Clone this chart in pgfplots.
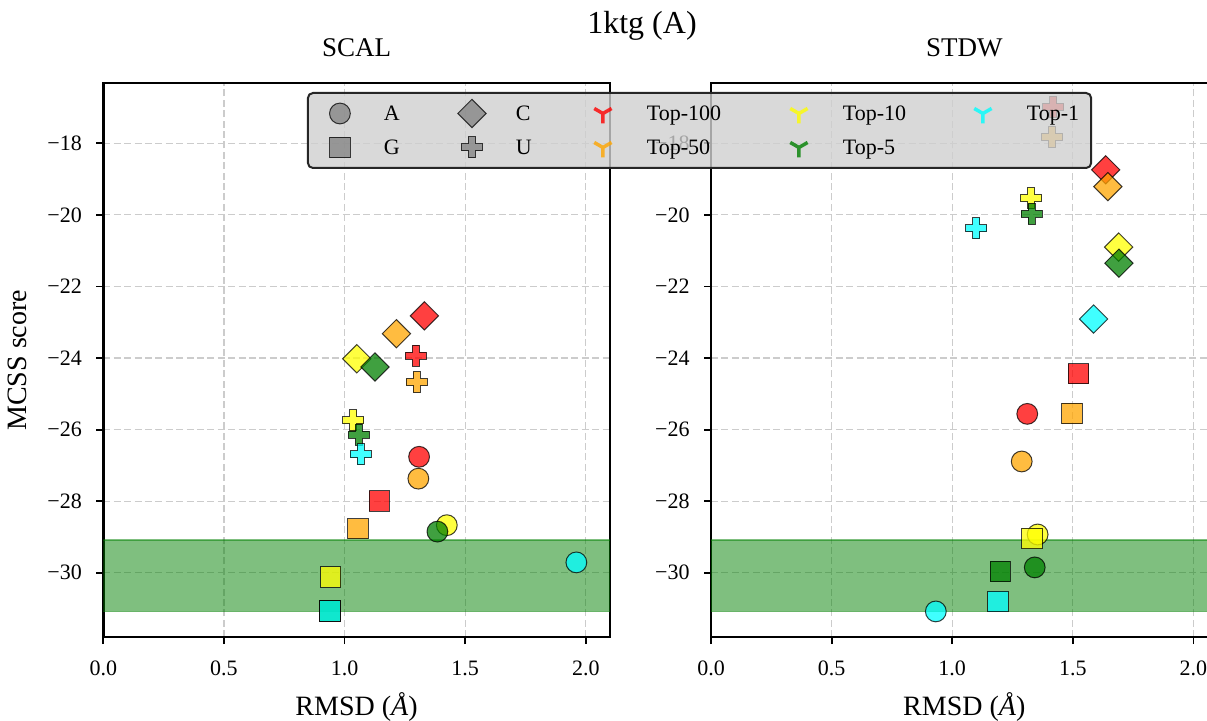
\documentclass[border=0pt]{standalone}
\usepackage{fontspec}
\setmainfont{Liberation Serif}
\usepackage{pgfplots}
\pgfplotsset{compat=1.18}

\definecolor{cR}{RGB}{255,0,0}
\definecolor{cO}{RGB}{255,165,0}
\definecolor{cY}{RGB}{255,255,0}
\definecolor{cG}{RGB}{0,128,0}
\definecolor{cC}{RGB}{0,255,255}
\definecolor{cGray}{RGB}{128,128,128}

\pgfdeclareplotmark{Pfill}{%
  \pgfpathmoveto{\pgfqpoint{-0.333\pgfplotmarksize}{\pgfplotmarksize}}%
  \pgfpathlineto{\pgfqpoint{0.333\pgfplotmarksize}{\pgfplotmarksize}}%
  \pgfpathlineto{\pgfqpoint{0.333\pgfplotmarksize}{0.333\pgfplotmarksize}}%
  \pgfpathlineto{\pgfqpoint{\pgfplotmarksize}{0.333\pgfplotmarksize}}%
  \pgfpathlineto{\pgfqpoint{\pgfplotmarksize}{-0.333\pgfplotmarksize}}%
  \pgfpathlineto{\pgfqpoint{0.333\pgfplotmarksize}{-0.333\pgfplotmarksize}}%
  \pgfpathlineto{\pgfqpoint{0.333\pgfplotmarksize}{-\pgfplotmarksize}}%
  \pgfpathlineto{\pgfqpoint{-0.333\pgfplotmarksize}{-\pgfplotmarksize}}%
  \pgfpathlineto{\pgfqpoint{-0.333\pgfplotmarksize}{-0.333\pgfplotmarksize}}%
  \pgfpathlineto{\pgfqpoint{-\pgfplotmarksize}{-0.333\pgfplotmarksize}}%
  \pgfpathlineto{\pgfqpoint{-\pgfplotmarksize}{0.333\pgfplotmarksize}}%
  \pgfpathlineto{\pgfqpoint{-0.333\pgfplotmarksize}{0.333\pgfplotmarksize}}%
  \pgfpathclose
  \pgfusepathqfillstroke}

\pgfdeclareplotmark{tridown}{%
  \pgfpathmoveto{\pgfqpoint{0pt}{0pt}}\pgfpathlineto{\pgfqpoint{0pt}{-\pgfplotmarksize}}%
  \pgfpathmoveto{\pgfqpoint{0pt}{0pt}}\pgfpathlineto{\pgfqpoint{0.866\pgfplotmarksize}{0.5\pgfplotmarksize}}%
  \pgfpathmoveto{\pgfqpoint{0pt}{0pt}}\pgfpathlineto{\pgfqpoint{-0.866\pgfplotmarksize}{0.5\pgfplotmarksize}}%
  \pgfusepathqstroke}

\pgfplotsset{
  myaxis/.style={
    scale only axis, width=253.3pt, height=277pt,
    xmin=0, xmax=2.1, ymin=-31.8, ymax=-16.32,
    xtick={0,0.5,1,1.5,2}, xticklabels={0.0,0.5,1.0,1.5,2.0},
    ytick={-30,-28,-26,-24,-22,-20,-18},
    yticklabels={−30,−28,−26,−24,−22,−20,−18},
    tick pos=left, tick align=outside, major tick length=3.5pt,
    major tick style={black, line width=0.9pt},
    axis line style={black, line width=1.25pt},
    grid=major,
    major grid style={black!20, line width=0.6pt, dash pattern=on 3.5pt off 1.7pt},
    tick label style={font=\fontsize{11}{13}\selectfont},
    xticklabel style={anchor=base, inner sep=0pt, yshift=-15.5pt},
    yticklabel style={anchor=east, inner sep=0pt, xshift=-7pt},
    title style={font=\fontsize{13.5}{16}\selectfont, at={(axis description cs:0.5,1.0271)}, anchor=base},
    every axis x label/.style={at={(axis description cs:0.5,-0.142)}, anchor=base, font=\fontsize{14}{16}\selectfont},
    every axis y label/.style={at={(axis description cs:-0.1508,0.5)}, rotate=90, anchor=base, font=\fontsize{14}{16}\selectfont},
    xlabel={RMSD (\textit{Å})},
  },
  pt/.style={only marks, forget plot, draw=black, line width=0.5pt, opacity=0.75},
  mA/.style={pt, mark=*, mark size=5.2pt},
  mG/.style={pt, mark=square*, mark size=5.1pt},
  mC/.style={pt, mark=square*, mark size=5pt, mark options={rotate=45}},
  mU/.style={pt, mark=Pfill, mark size=5.25pt},
  band/.style={forget plot, fill=cG, fill opacity=0.5, draw=cG, draw opacity=0.5, line width=0.75pt},
  limg/.style={legend image code/.code={\path[draw=none, fill=none] (-10pt,-8.5pt) rectangle (22pt,8.5pt); \draw[sharp corners, ##1] plot coordinates {(0pt,0pt)};}},
}

\begin{document}
\begin{tikzpicture}

\begin{axis}[myaxis, at={(51.65pt,41.9pt)}, anchor=south west,
  title={SCAL}, ylabel={MCSS score}]
\addplot[band] coordinates {(-1,-31.08) (3,-31.08) (3,-29.09) (-1,-29.09) (-1,-31.08)};
% A
\addplot[mA, fill=cR] coordinates {(1.309,-26.76)};
\addplot[mA, fill=cO] coordinates {(1.306,-27.37)};
\addplot[mA, fill=cY] coordinates {(1.424,-28.67)};
\addplot[mA, fill=cG] coordinates {(1.385,-28.85)};
\addplot[mA, fill=cC] coordinates {(1.961,-29.71)};
% G
\addplot[mG, fill=cR] coordinates {(1.144,-28.00)};
\addplot[mG, fill=cO] coordinates {(1.056,-28.77)};
\addplot[mG, fill=cY] coordinates {(0.943,-30.12)};
\addplot[mG, fill=cG] coordinates {(0.940,-31.07)};
\addplot[mG, fill=cC] coordinates {(0.940,-31.07)};
% C
\addplot[mC, fill=cR] coordinates {(1.331,-22.82)};
\addplot[mC, fill=cO] coordinates {(1.215,-23.32)};
\addplot[mC, fill=cY] coordinates {(1.051,-24.02)};
\addplot[mC, fill=cG] coordinates {(1.126,-24.25)};
% U
\addplot[mU, fill=cR] coordinates {(1.296,-23.93)};
\addplot[mU, fill=cO] coordinates {(1.299,-24.67)};
\addplot[mU, fill=cY] coordinates {(1.037,-25.74)};
\addplot[mU, fill=cG] coordinates {(1.059,-26.14)};
\addplot[mU, fill=cC] coordinates {(1.067,-26.69)};
\end{axis}

\begin{axis}[myaxis, at={(355.5pt,41.9pt)}, anchor=south west,
  title={STDW},
  legend columns=5, legend cell align=left,
  legend style={at={(axis description cs:-0.7976,0.9841)}, anchor=north west,
    draw=black!85, line width=1pt, rounded corners=2.5pt,
    fill=black!19, fill opacity=0.8, draw opacity=1, text opacity=1,
    inner xsep=6pt, inner ysep=1.75pt, column sep=0pt, row sep=0pt,
    font=\fontsize{11}{13}\selectfont,
    nodes={inner sep=0pt, text height=7.5pt, text depth=0pt}}]
\addplot[band] coordinates {(-1,-31.08) (3,-31.08) (3,-29.09) (-1,-29.09) (-1,-31.08)};
% A
\addplot[mA, fill=cR] coordinates {(1.311,-25.56)};
\addplot[mA, fill=cO] coordinates {(1.288,-26.89)};
\addplot[mA, fill=cY] coordinates {(1.354,-28.93)};
\addplot[mA, fill=cG] coordinates {(1.342,-29.85)};
\addplot[mA, fill=cC] coordinates {(0.932,-31.08)};
% G
\addplot[mG, fill=cR] coordinates {(1.523,-24.44)};
\addplot[mG, fill=cO] coordinates {(1.497,-25.55)};
\addplot[mG, fill=cY] coordinates {(1.330,-29.04)};
\addplot[mG, fill=cG] coordinates {(1.199,-29.97)};
\addplot[mG, fill=cC] coordinates {(1.190,-30.80)};
% C
\addplot[mC, fill=cR] coordinates {(1.636,-18.74)};
\addplot[mC, fill=cO] coordinates {(1.645,-19.21)};
\addplot[mC, fill=cY] coordinates {(1.690,-20.90)};
\addplot[mC, fill=cG] coordinates {(1.691,-21.35)};
\addplot[mC, fill=cC] coordinates {(1.586,-22.91)};
% U
\addplot[mU, fill=cR] coordinates {(1.419,-16.98)};
\addplot[mU, fill=cO] coordinates {(1.414,-17.82)};
\addplot[mU, fill=cY] coordinates {(1.327,-19.53)};
\addplot[mU, fill=cG] coordinates {(1.329,-19.97)};
\addplot[mU, fill=cC] coordinates {(1.100,-20.38)};

% legend (row-wise)
\addlegendimage{limg, mark=*, mark size=5.2pt, fill=cGray, draw=black, opacity=0.75, line width=0.5pt}
\addlegendentry{\makebox[34pt][l]{A}}
\addlegendimage{limg, mark=square*, mark size=5pt, mark options={rotate=45}, fill=cGray, draw=black, opacity=0.75, line width=0.5pt}
\addlegendentry{\makebox[33.5pt][l]{C}}
\addlegendimage{limg, mark=tridown, mark size=5pt, draw=cR, opacity=0.8, line width=1.75pt}
\addlegendentry{\makebox[66pt][l]{Top-100}}
\addlegendimage{limg, mark=tridown, mark size=5pt, draw=cY, opacity=0.8, line width=1.75pt}
\addlegendentry{\makebox[60pt][l]{Top-10}}
\addlegendimage{limg, mark=tridown, mark size=5pt, draw=cC, opacity=0.8, line width=1.75pt}
\addlegendentry{Top-1}
\addlegendimage{limg, mark=square*, mark size=5.1pt, fill=cGray, draw=black, opacity=0.75, line width=0.5pt}
\addlegendentry{\makebox[34pt][l]{G}}
\addlegendimage{limg, mark=Pfill, mark size=5.25pt, fill=cGray, draw=black, opacity=0.75, line width=0.5pt}
\addlegendentry{\makebox[33.5pt][l]{U}}
\addlegendimage{limg, mark=tridown, mark size=5pt, draw=cO, opacity=0.8, line width=1.75pt}
\addlegendentry{\makebox[66pt][l]{Top-50}}
\addlegendimage{limg, mark=tridown, mark size=5pt, draw=cG, opacity=0.8, line width=1.75pt}
\addlegendentry{\makebox[60pt][l]{Top-5}}
\end{axis}

\node[anchor=base, font=\fontsize{16}{19}\selectfont] at (321pt,343.75pt) {1ktg (A)};

\pgfresetboundingbox
\path[use as bounding box] (0pt,0pt) rectangle (603.5pt,360.5pt);
\end{tikzpicture}
\end{document}
